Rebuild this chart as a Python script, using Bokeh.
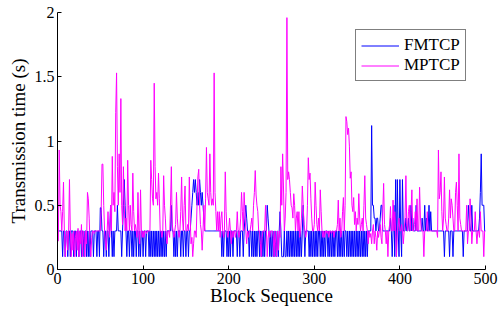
from bokeh.plotting import figure
from bokeh.models import Range1d, FixedTicker, Legend, LegendItem
from bokeh.embed import file_html
from bokeh.resources import INLINE

# ---- data ----
fm_000 = [0.3, 0.3, 0.3, 0.3, 0.3, 0.1, 0.3, 0.3, 0.1, 0.3,
          0.3, 0.1, 0.3, 0.3, 0.1, 0.3, 0.3, 0.3, 0.1, 0.3,
          0.3, 0.1, 0.3, 0.3, 0.1, 0.3, 0.3, 0.1, 0.3, 0.3,
          0.1, 0.3, 0.3, 0.1, 0.3, 0.1, 0.3, 0.1, 0.3, 0.3,
          0.3, 0.1, 0.3, 0.3, 0.3, 0.1, 0.3, 0.3, 0.1, 0.48]
fm_050 = [0.48, 0.3, 0.3, 0.1, 0.3, 0.3, 0.1, 0.3, 0.3, 0.1,
          0.3, 0.5, 0.3, 0.1, 0.3, 0.1, 0.3, 0.3, 0.3, 0.5,
          0.3, 0.3, 0.3, 0.3, 0.1, 0.3, 0.5, 0.7, 0.5, 0.3,
          0.1, 0.3, 0.3, 0.1, 0.3, 0.3, 0.1, 0.3, 0.1, 0.3,
          0.3, 0.1, 0.3, 0.3, 0.1, 0.3, 0.1, 0.3, 0.3, 0.1]
fm_100 = [0.3, 0.3, 0.1, 0.3, 0.3, 0.3, 0.1, 0.3, 0.1, 0.3,
          0.1, 0.3, 0.1, 0.3, 0.1, 0.3, 0.1, 0.3, 0.1, 0.3,
          0.1, 0.3, 0.1, 0.3, 0.1, 0.3, 0.1, 0.3, 0.3, 0.3,
          0.3, 0.3, 0.5, 0.3, 0.3, 0.1, 0.3, 0.1, 0.3, 0.1,
          0.3, 0.3, 0.3, 0.1, 0.3, 0.3, 0.1, 0.3, 0.3, 0.1]
fm_150 = [0.3, 0.3, 0.1, 0.3, 0.3, 0.4, 0.5, 0.6, 0.7, 0.6,
          0.7, 0.6, 0.5, 0.6, 0.5, 0.7, 0.6, 0.5, 0.6, 0.5,
          0.4, 0.3, 0.3, 0.3, 0.3, 0.3, 0.3, 0.3, 0.3, 0.3,
          0.3, 0.3, 0.3, 0.3, 0.3, 0.3, 0.3, 0.3, 0.3, 0.3,
          0.3, 0.1, 0.3, 0.1, 0.3, 0.3, 0.3, 0.1, 0.3, 0.1]
fm_200 = [0.3, 0.1, 0.3, 0.3, 0.1, 0.3, 0.3, 0.3, 0.3, 0.1,
          0.3, 0.3, 0.1, 0.3, 0.3, 0.3, 0.1, 0.3, 0.4, 0.5,
          0.4, 0.3, 0.3, 0.1, 0.3, 0.3, 0.1, 0.3, 0.1, 0.3,
          0.1, 0.3, 0.1, 0.3, 0.3, 0.1, 0.3, 0.1, 0.3, 0.1,
          0.3, 0.1, 0.3, 0.3, 0.5, 0.4, 0.3, 0.1, 0.3, 0.1]
fm_250 = [0.3, 0.1, 0.3, 0.1, 0.3, 0.1, 0.3, 0.1, 0.3, 0.45,
          0.3, 0.1, 0.1, 0.1, 0.3, 0.1, 0.1, 0.3, 0.1, 0.3,
          0.1, 0.3, 0.1, 0.3, 0.1, 0.3, 0.1, 0.3, 0.1, 0.3,
          0.1, 0.3, 0.1, 0.3, 0.1, 0.3, 0.5, 0.3, 0.1, 0.3,
          0.3, 0.3, 0.3, 0.1, 0.3, 0.1, 0.3, 0.1, 0.3, 0.1]
fm_300 = [0.3, 0.1, 0.3, 0.1, 0.3, 0.3, 0.1, 0.3, 0.1, 0.3,
          0.1, 0.3, 0.1, 0.3, 0.3, 0.1, 0.3, 0.1, 0.3, 0.1,
          0.3, 0.1, 0.3, 0.1, 0.3, 0.3, 0.1, 0.3, 0.1, 0.3,
          0.1, 0.3, 0.1, 0.3, 0.1, 0.3, 0.3, 0.1, 0.3, 0.1,
          0.3, 0.1, 0.3, 0.1, 0.3, 0.1, 0.3, 0.1, 0.3, 0.1]
fm_350 = [0.3, 0.1, 0.3, 0.1, 0.3, 0.1, 0.3, 0.1, 0.3, 0.1,
          0.3, 0.1, 0.3, 0.3, 0.3, 0.3, 1.12, 0.5, 0.5, 0.4,
          0.4, 0.3, 0.4, 0.4, 0.3, 0.3, 0.4, 0.5, 0.5, 0.3,
          0.3, 0.3, 0.3, 0.3, 0.3, 0.3, 0.3, 0.3, 0.4, 0.3,
          0.1, 0.3, 0.5, 0.1, 0.7, 0.1, 0.7, 0.3, 0.1, 0.7]
fm_400 = [0.3, 0.1, 0.7, 0.3, 0.3, 0.3, 0.4, 0.3, 0.3, 0.4,
          0.3, 0.3, 0.5, 0.3, 0.4, 0.3, 0.3, 0.3, 0.5, 0.3,
          0.3, 0.3, 0.3, 0.3, 0.3, 0.4, 0.3, 0.3, 0.5, 0.3,
          0.4, 0.3, 0.3, 0.5, 0.3, 0.45, 0.3, 0.3, 0.3, 0.3,
          0.3, 0.3, 0.3, 0.3, 0.3, 0.3, 0.3, 0.3, 0.3, 0.3]
fm_450 = [0.3, 0.1, 0.3, 0.3, 0.3, 0.3, 0.3, 0.1, 0.3, 0.3,
          0.3, 0.1, 0.3, 0.3, 0.3, 0.3, 0.3, 0.3, 0.3, 0.3,
          0.3, 0.3, 0.3, 0.1, 0.3, 0.3, 0.3, 0.3, 0.3, 0.5,
          0.4, 0.3, 0.3, 0.5, 0.3, 0.3, 0.3, 0.3, 0.3, 0.3,
          0.3, 0.3, 0.4, 0.6, 0.9, 0.5, 0.5, 0.5, 0.3, 0.3]

mp_000 = [0.22, 0.93, 0.5, 0.45, 0.3, 0.45, 0.68, 0.3, 0.1, 0.25,
          0.3, 0.15, 0.3, 0.7, 0.3, 0.1, 0.28, 0.15, 0.3, 0.1,
          0.25, 0.3, 0.15, 0.32, 0.1, 0.3, 0.2, 0.35, 0.1, 0.3,
          0.25, 0.1, 0.3, 0.2, 0.6, 0.55, 0.4, 0.2, 0.1, 0.25,
          0.3, 0.3, 0.28, 0.3, 0.3, 0.3, 0.3, 0.3, 0.3, 0.3]
mp_050 = [0.45, 0.82, 0.82, 0.5, 0.3, 0.2, 0.15, 0.3, 0.45, 0.3,
          0.25, 0.5, 0.3, 0.88, 0.5, 0.6, 0.45, 1.22, 1.53, 0.8,
          0.5, 0.9, 0.6, 1.33, 0.5, 0.35, 0.8, 0.5, 0.3, 0.4,
          0.3, 0.85, 0.5, 0.3, 0.5, 0.35, 0.3, 0.75, 0.45, 0.3,
          0.35, 0.3, 0.25, 0.6, 0.3, 0.2, 0.62, 0.3, 0.25, 0.3]
mp_100 = [0.25, 0.3, 0.3, 0.28, 0.3, 0.3, 0.3, 0.3, 0.85, 0.7,
          0.55, 0.5, 1.45, 0.8, 0.55, 0.6, 0.5, 0.75, 0.55, 0.3,
          0.3, 0.25, 0.3, 0.73, 0.5, 0.4, 0.25, 0.2, 0.3, 0.3,
          0.25, 0.5, 0.8, 0.35, 0.3, 0.25, 0.3, 0.35, 0.6, 0.4,
          0.3, 0.25, 0.3, 0.45, 0.72, 0.4, 0.3, 0.5, 0.65, 0.3]
mp_150 = [0.3, 0.35, 0.3, 0.72, 0.4, 0.2, 0.25, 0.1, 0.2, 0.3,
          0.3, 0.25, 0.5, 0.72, 0.78, 0.5, 0.35, 0.3, 0.15, 0.3,
          0.5, 0.3, 0.55, 0.95, 0.6, 0.55, 0.5, 0.9, 0.6, 0.5,
          0.55, 0.5, 1.53, 0.6, 0.45, 0.3, 0.45, 0.3, 0.45, 0.25,
          0.4, 0.45, 0.3, 0.25, 0.3, 0.76, 0.45, 0.3, 0.25, 0.3]
mp_200 = [0.4, 0.3, 0.2, 0.3, 0.25, 0.3, 0.3, 0.25, 0.3, 0.45,
          0.3, 0.25, 0.3, 0.4, 0.6, 0.45, 0.3, 0.6, 0.45, 0.3,
          0.2, 0.3, 0.25, 0.3, 0.3, 0.35, 0.4, 0.3, 0.5, 0.6,
          0.77, 0.58, 0.5, 0.45, 0.3, 0.3, 0.2, 0.1, 0.25, 0.3,
          0.3, 0.3, 0.5, 0.3, 0.1, 0.25, 0.3, 0.25, 0.3, 0.3]
mp_250 = [0.3, 0.25, 0.1, 0.3, 0.2, 0.1, 0.3, 0.15, 0.3, 0.25,
          0.8, 0.5, 0.9, 0.65, 0.3, 0.4, 0.6, 1.96, 0.7, 0.76,
          0.7, 0.6, 0.5, 0.48, 0.4, 0.59, 0.5, 0.3, 0.4, 0.45,
          0.3, 0.45, 0.25, 0.3, 0.4, 0.65, 0.5, 0.35, 0.3, 0.25,
          0.3, 0.5, 0.87, 0.7, 0.75, 0.55, 0.4, 0.3, 0.3, 0.35]
mp_300 = [0.68, 0.5, 0.35, 0.3, 0.4, 0.3, 0.62, 0.45, 0.3, 0.25,
          0.3, 0.25, 0.3, 0.3, 0.28, 0.3, 0.25, 0.3, 0.3, 0.28,
          0.3, 0.3, 0.25, 0.3, 0.3, 0.3, 0.35, 0.54, 0.3, 0.4,
          0.25, 0.3, 0.45, 0.56, 0.3, 0.5, 1.19, 1.15, 1.05, 1.1,
          0.96, 0.71, 0.76, 0.5, 0.45, 0.56, 0.35, 0.45, 0.3, 0.4]
mp_350 = [0.35, 0.59, 0.4, 0.3, 0.35, 0.4, 0.3, 0.5, 0.73, 0.4,
          0.35, 0.3, 0.2, 0.3, 0.25, 0.28, 0.2, 0.3, 0.35, 0.2,
          0.3, 0.25, 0.15, 0.3, 0.25, 0.3, 0.35, 0.25, 0.2, 0.45,
          0.67, 0.35, 0.3, 0.2, 0.3, 0.1, 0.3, 0.35, 0.49, 0.3,
          0.3, 0.54, 0.3, 0.45, 0.3, 0.1, 0.3, 0.35, 0.4, 0.3]
mp_400 = [0.3, 0.35, 0.3, 0.2, 0.3, 0.4, 0.73, 0.35, 0.3, 0.45,
          0.5, 0.3, 0.45, 0.62, 0.3, 0.3, 0.35, 0.45, 0.3, 0.55,
          0.3, 0.3, 0.64, 0.4, 0.3, 0.3, 0.3, 0.1, 0.3, 0.3,
          0.3, 0.45, 0.3, 0.3, 0.3, 0.3, 0.3, 0.3, 0.3, 0.3,
          0.3, 0.3, 0.3, 0.25, 0.93, 0.55, 0.6, 0.76, 0.45, 0.3]
mp_450 = [0.4, 0.72, 0.4, 0.35, 0.3, 0.3, 0.4, 0.62, 0.4, 0.55,
          0.5, 0.4, 0.3, 0.3, 0.6, 0.68, 0.5, 0.3, 0.9, 0.4,
          0.35, 0.3, 0.3, 0.3, 0.3, 0.3, 0.3, 0.5, 0.2, 0.3,
          0.3, 0.55, 0.4, 0.2, 0.3, 0.3, 0.3, 0.45, 0.3, 0.2,
          0.3, 0.3, 0.25, 0.45, 0.3, 0.3, 0.3, 0.1, 0.3, 0.3]

fmtcp = fm_000 + fm_050 + fm_100 + fm_150 + fm_200 + fm_250 + fm_300 + fm_350 + fm_400 + fm_450
mptcp = mp_000 + mp_050 + mp_100 + mp_150 + mp_200 + mp_250 + mp_300 + mp_350 + mp_400 + mp_450
fm_blocks = list(range(1, len(fmtcp) + 1))
mp_blocks = list(range(1, len(mptcp) + 1))

series_names = ["FMTCP", "MPTCP"]
x_ticks = [0, 100, 200, 300, 400, 500]
y_ticks = [0, 0.5, 1, 1.5, 2]
y_tick_labels = ["0", "0.5", "1", "1.5", "2"]
x_label = "Block Sequence"
y_label = "Transmission time (s)"

FONT = "Liberation Serif"
TICK_FONT = "'Liberation Serif', 'Times New Roman', serif"

p = figure(frame_width=428, frame_height=257, output_backend="svg",
           toolbar_location=None, x_range=Range1d(0, 500), y_range=Range1d(0, 2))
p.min_border_left = 57
p.min_border_right = 14
p.min_border_top = 12
p.min_border_bottom = 40
p.outline_line_color = None
p.background_fill_color = "white"
p.border_fill_color = "white"
p.xgrid.visible = False
p.ygrid.visible = False

r_fm = p.line(fm_blocks, fmtcp, line_color="#0000ff", line_width=1.0)
r_mp = p.line(mp_blocks, mptcp, line_color="#ff00ff", line_width=1.0)

p.axis.axis_line_color = "black"
p.axis.axis_line_width = 1
p.axis.major_tick_line_color = "black"
p.axis.major_tick_in = 4
p.axis.major_tick_out = 0
p.axis.minor_tick_line_color = None
p.axis.major_label_text_font = TICK_FONT
p.axis.major_label_text_font_size = "16px"
p.axis.major_label_text_font_style = "normal"
p.axis.major_label_text_color = "black"
p.axis.axis_label_text_font = FONT
p.axis.axis_label_text_font_size = "19px"
p.axis.axis_label_text_font_style = "normal"
p.axis.axis_label_text_color = "black"

p.xaxis.ticker = FixedTicker(ticks=x_ticks)
p.yaxis.ticker = FixedTicker(ticks=y_ticks)
p.yaxis.major_label_overrides = {t: s for t, s in zip(y_ticks, y_tick_labels)}
p.xaxis.major_label_overrides = {t: str(t) for t in x_ticks}
p.xaxis.axis_label = x_label
p.yaxis.axis_label = y_label
p.xaxis.major_label_standoff = 3
p.xaxis.axis_label_standoff = -2
p.yaxis.major_label_standoff = 3
p.yaxis.axis_label_standoff = 3

legend = Legend(items=[LegendItem(label=series_names[0], renderers=[r_fm]),
                       LegendItem(label=series_names[1], renderers=[r_mp])],
                location=(298, 188))
legend.border_line_color = "black"
legend.border_line_width = 1
legend.background_fill_color = "white"
legend.background_fill_alpha = 1.0
legend.label_text_font = FONT
legend.label_text_font_size = "17px"
legend.label_text_color = "black"
legend.glyph_width = 38
legend.glyph_height = 19
legend.label_height = 19
legend.label_standoff = 5
legend.padding = 5
legend.spacing = 0
legend.margin = 0
p.add_layout(legend, "center")

open("out.html", "w").write(file_html(p, INLINE))
